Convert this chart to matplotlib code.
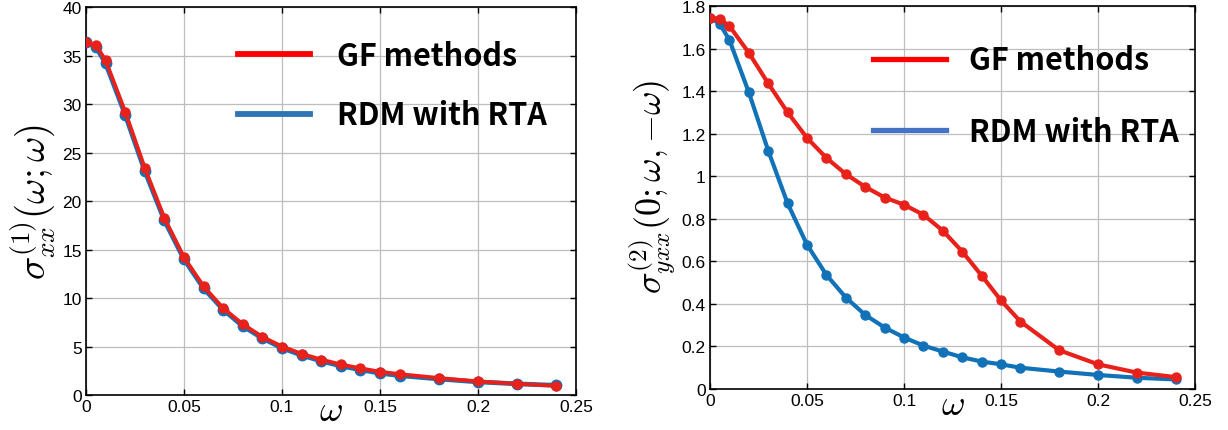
import matplotlib.pyplot as plt
from matplotlib.lines import Line2D

# frequencies
omega = [0, 0.005, 0.01, 0.02, 0.03, 0.04, 0.05, 0.06, 0.07, 0.08, 0.09,
         0.1, 0.11, 0.12, 0.13, 0.14, 0.15, 0.16, 0.18, 0.2, 0.22, 0.24]

# linear conductivity sigma^(1)_xx
sig1_gf = [36.35, 36.1, 34.5, 29.2, 23.4, 18.25, 14.2, 11.2, 8.95, 7.3, 6.0,
           5.0, 4.25, 3.65, 3.15, 2.75, 2.4, 2.15, 1.75, 1.4, 1.15, 0.95]
sig1_rdm = [36.4, 35.9, 34.2, 28.9, 23.1, 18.0, 14.0, 11.0, 8.8, 7.1, 5.85,
            4.85, 4.1, 3.5, 3.0, 2.6, 2.25, 2.0, 1.65, 1.35, 1.15, 1.0]

# second-order conductivity sigma^(2)_yxx
sig2_gf = [1.745, 1.74, 1.706, 1.58, 1.436, 1.30, 1.18, 1.086, 1.01, 0.95, 0.90,
           0.866, 0.819, 0.744, 0.646, 0.533, 0.416, 0.317, 0.182, 0.116, 0.077, 0.056]
sig2_rdm = [1.745, 1.717, 1.64, 1.394, 1.12, 0.872, 0.678, 0.536, 0.43, 0.348, 0.289,
            0.242, 0.204, 0.176, 0.149, 0.129, 0.116, 0.10, 0.082, 0.066, 0.053, 0.045]

labels = ["GF methods", "RDM with RTA"]

red = "#e8211b"
blue = "#1172b8"

plt.rcParams["mathtext.fontset"] = "cm"
plt.rcParams["font.family"] = ["Liberation Sans", "DejaVu Sans"]

fig = plt.figure(figsize=(12.28, 4.31), dpi=100)
ax1 = fig.add_axes([0.0700, 0.0812, 0.3990, 0.9002])
ax2 = fig.add_axes([0.5782, 0.0951, 0.3950, 0.8886])

# left panel
ax1.plot(omega, sig1_rdm, "-o", color=blue, lw=3.4, ms=7.5, zorder=3)
ax1.plot(omega, sig1_gf, "-o", color=red, lw=2.8, ms=6.5, zorder=4)
ax1.set_xlim(0, 0.25)
ax1.set_ylim(0, 40)
ax1.set_yticks(range(0, 41, 5))
ax1.set_ylabel(r"$\sigma^{(1)}_{xx}(\omega;\omega)$", fontsize=28)
ax1.yaxis.set_label_coords(-0.06, 0.5)

# right panel
ax2.plot(omega, sig2_rdm, "-o", color=blue, lw=3.0, ms=6.5, zorder=3)
ax2.plot(omega, sig2_gf, "-o", color=red, lw=3.0, ms=6.5, zorder=4)
ax2.set_xlim(0, 0.25)
ax2.set_ylim(0, 1.8)
ax2.set_yticks([0, 0.2, 0.4, 0.6, 0.8, 1, 1.2, 1.4, 1.6, 1.8])
ax2.set_yticklabels(["0", "0.2", "0.4", "0.6", "0.8", "1", "1.2", "1.4", "1.6", "1.8"])
ax2.set_ylabel(r"$\sigma^{(2)}_{yxx}(0;\omega,{-}\omega)$", fontsize=26)
ax2.yaxis.set_label_coords(-0.065, 0.53)

for ax in (ax1, ax2):
    ax.set_xticks([0, 0.05, 0.1, 0.15, 0.2, 0.25])
    ax.set_xticklabels(["0", "0.05", "0.1", "0.15", "0.2", "0.25"])
    ax.set_xlabel(r"$\omega$", fontsize=26, labelpad=-15)
    ax.grid(True, color="#bdbdbd", lw=0.9)
    ax.set_axisbelow(True)
    ax.tick_params(direction="in", length=4, width=1, labelsize=12.5,
                   right=True, top=True, pad=3)
    for s in ax.spines.values():
        s.set_linewidth(1.2)

# legends (line handles only)
leg_font = {"family": ["Noto Sans CJK JP", "DejaVu Sans"], "weight": "bold", "size": 22}
h1 = [Line2D([], [], color="#ff0000", lw=4.2), Line2D([], [], color="#2e75b6", lw=4.2)]
ax1.legend(h1, labels, loc="upper left", bbox_to_anchor=(0.31, 0.915), frameon=False,
           prop=leg_font, handlelength=2.35, handletextpad=0.9, labelspacing=0.9,
           borderpad=0, borderaxespad=0)
h2 = [Line2D([], [], color="#ff0000", lw=3.8), Line2D([], [], color="#4472c4", lw=3.8)]
ax2.legend(h2, labels, loc="upper left", bbox_to_anchor=(0.336, 0.9), frameon=False,
           prop=leg_font, handlelength=2.4, handletextpad=0.75, labelspacing=1.3,
           borderpad=0, borderaxespad=0)

plt.savefig("out.png", dpi=100)
